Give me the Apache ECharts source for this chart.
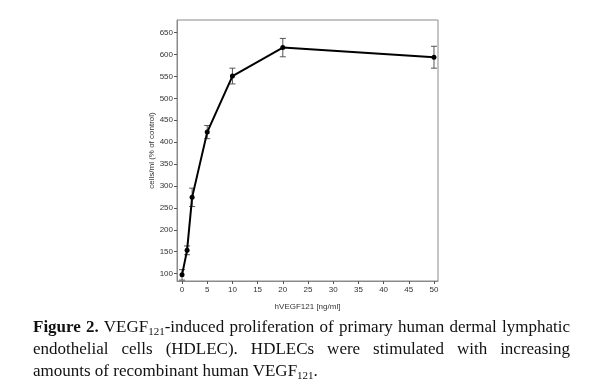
<!DOCTYPE html>
<html><head><meta charset="utf-8">
<script src="https://cdn.jsdelivr.net/npm/echarts@6/dist/echarts.min.js"></script>
<style>
html,body{margin:0;padding:0;background:#fff;}
#wrap{position:relative;width:600px;height:385px;}
#chart{position:absolute;left:0;top:0;width:600px;height:385px;}
#cap{position:absolute;left:33px;top:316px;width:537px;font-family:"Liberation Serif","Times New Roman",serif;font-size:17px;line-height:22px;color:#111;}
#cap .j{text-align:justify;text-align-last:justify;white-space:nowrap;}
#cap sub{font-size:11px;vertical-align:-3px;line-height:0;}
</style></head>
<body><div id="wrap"><div id="chart"></div>
<div id="cap"><div class="j"><b>Figure 2.</b> VEGF<sub>121</sub>-induced proliferation of primary human dermal lymphatic</div><div class="j">endothelial cells (HDLEC). HDLECs were stimulated with increasing</div><div>amounts of recombinant human VEGF<sub>121</sub>.</div></div></div>
<script>
const doses = [0, 1, 2, 5, 10, 20, 50];
const means = [97, 153, 274, 423, 551, 616, 594];
const errs = [12, 10, 21, 15, 18, 21, 25];
const xTicks = [0, 5, 10, 15, 20, 25, 30, 35, 40, 45, 50];
const yTicks = [100, 150, 200, 250, 300, 350, 400, 450, 500, 550, 600, 650];

const chart = echarts.init(document.getElementById('chart'));
const lineData = doses.map((d, i) => [d, means[i]]);
const errData = doses.map((d, i) => [d, means[i] - errs[i], means[i] + errs[i]]);
const lbl = {fontFamily: 'Liberation Sans, Arial', fontSize: 8, color: '#333'};
chart.setOption({
  animation: false,
  grid: {left: 177, right: 162, top: 20, bottom: 104, show: true, borderColor: '#8a8a8a', borderWidth: 1},
  xAxis: {
    type: 'value', min: -1, max: 50.8,
    name: 'hVEGF121 [ng/ml]', nameLocation: 'middle', nameGap: 22,
    nameTextStyle: lbl,
    axisLine: {show: true, onZero: false, lineStyle: {color: '#8a8a8a'}},
    axisTick: {show: true, length: 3, customValues: xTicks, lineStyle: {color: '#555'}},
    axisLabel: Object.assign({customValues: xTicks, margin: 5}, lbl),
    splitLine: {show: false}
  },
  yAxis: {
    type: 'value', min: 83, max: 679,
    name: 'cells/ml (% of control)', nameLocation: 'middle', nameGap: 21,
    nameTextStyle: lbl,
    axisLine: {show: true, onZero: false, lineStyle: {color: '#8a8a8a'}},
    axisTick: {show: true, length: 3, customValues: yTicks, lineStyle: {color: '#555'}},
    axisLabel: Object.assign({customValues: yTicks, margin: 4}, lbl),
    splitLine: {show: false}
  },
  series: [
    {
      type: 'custom',
      data: errData,
      renderItem: function (params, api) {
        const x = api.value(0);
        const lo = api.coord([x, api.value(1)]);
        const hi = api.coord([x, api.value(2)]);
        const w = 3;
        const st = {stroke: '#555', lineWidth: 1};
        return {type: 'group', children: [
          {type: 'line', shape: {x1: lo[0], y1: lo[1], x2: hi[0], y2: hi[1]}, style: st},
          {type: 'line', shape: {x1: lo[0] - w, y1: lo[1], x2: lo[0] + w, y2: lo[1]}, style: st},
          {type: 'line', shape: {x1: hi[0] - w, y1: hi[1], x2: hi[0] + w, y2: hi[1]}, style: st}
        ]};
      },
      z: 1
    },
    {
      type: 'line', data: lineData,
      symbol: 'circle', symbolSize: 5,
      lineStyle: {color: '#000', width: 2},
      itemStyle: {color: '#000'},
      z: 2
    }
  ]
});
</script></body></html>
